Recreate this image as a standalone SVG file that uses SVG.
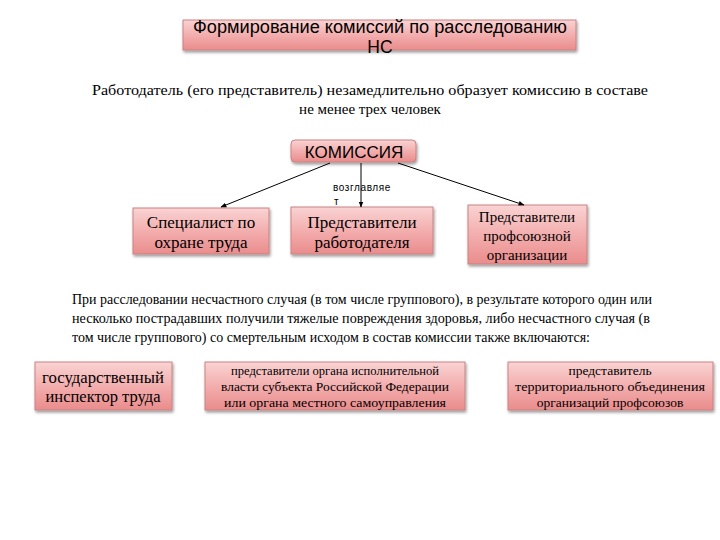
<svg xmlns="http://www.w3.org/2000/svg" width="720" height="540" viewBox="0 0 720 540">
<defs>
<linearGradient id="pink" x1="0" y1="0" x2="0" y2="1">
<stop offset="0" stop-color="#f9d3d3"/>
<stop offset="0.5" stop-color="#f3aeae"/>
<stop offset="1" stop-color="#ea8c8c"/>
</linearGradient>
<filter id="sh" x="-10%" y="-10%" width="120%" height="140%">
<feGaussianBlur in="SourceAlpha" stdDeviation="1.5"/>
<feOffset dx="1" dy="2" result="b"/>
<feComponentTransfer><feFuncA type="linear" slope="0.4"/></feComponentTransfer>
<feMerge><feMergeNode/><feMergeNode in="SourceGraphic"/></feMerge>
</filter>
<marker id="arr" viewBox="0 0 10 10" refX="9" refY="5" markerWidth="6" markerHeight="6" orient="auto">
<path d="M0,1 L10,5 L0,9 z" fill="#000"/>
</marker>
</defs>
<style>
.box{fill:url(#pink);stroke:#c98383;stroke-width:1;filter:url(#sh)}
.sans{font-family:"Liberation Sans",Arial,sans-serif;fill:#000}
.serif{font-family:"Liberation Serif","Times New Roman",serif;fill:#000}
.c{text-anchor:middle}
.conn{stroke:#000;stroke-width:1;fill:none;marker-end:url(#arr)}
</style>
<rect width="720" height="540" fill="#fff"/>

<g id="title">
<rect class="box" x="183" y="20" width="393" height="30"/>
<text class="sans c" x="380" y="33" font-size="17.5" textLength="374" lengthAdjust="spacingAndGlyphs">Формирование комиссий по расследованию</text>
<text class="sans c" x="380" y="53" font-size="17.5">НС</text>
</g>

<g id="intro">
<text class="serif c" x="370" y="95" font-size="15" textLength="556" lengthAdjust="spacingAndGlyphs">Работодатель (его представитель) незамедлительно образует комиссию в составе</text>
<text class="serif c" x="370" y="114" font-size="15">не менее трех человек</text>
</g>

<g id="komissiya">
<rect class="box" x="291" y="140" width="125" height="22" rx="4"/>
<text class="sans c" x="354" y="158" font-size="17">КОМИССИЯ</text>
</g>

<g id="specialist">
<rect class="box" x="133" y="208" width="136" height="46"/>
<text class="serif c" x="201" y="228" font-size="17">Специалист по</text>
<text class="serif c" x="201" y="248" font-size="17">охране труда</text>
</g>

<g id="rep-employer">
<rect class="box" x="291" y="207" width="142" height="47"/>
<text class="serif c" x="362" y="228" font-size="17">Представители</text>
<text class="serif c" x="362" y="248" font-size="17">работодателя</text>
</g>

<g id="rep-union">
<rect class="box" x="468" y="205" width="119" height="59"/>
<text class="serif c" x="527" y="222" font-size="15">Представители</text>
<text class="serif c" x="527" y="241" font-size="15">профсоюзной</text>
<text class="serif c" x="527" y="260" font-size="15">организации</text>
</g>

<g id="connectors">
<line class="conn" x1="330" y1="163" x2="221" y2="207"/>
<line class="conn" x1="361" y1="163" x2="361" y2="207"/>
<line class="conn" x1="398" y1="163" x2="524" y2="205"/>
<text class="sans" x="333" y="191" font-size="10" letter-spacing="0.6">возглавляе</text>
<text class="sans" x="334" y="205" font-size="10">т</text>
</g>

<g id="note">
<text class="serif" x="72" y="304" font-size="14" textLength="580" lengthAdjust="spacingAndGlyphs">При расследовании несчастного случая (в том числе группового), в результате которого один или</text>
<text class="serif" x="72" y="323" font-size="14" textLength="578" lengthAdjust="spacingAndGlyphs">несколько пострадавших получили тяжелые повреждения здоровья, либо несчастного случая (в</text>
<text class="serif" x="72" y="342" font-size="14" textLength="518" lengthAdjust="spacingAndGlyphs">том числе группового) со смертельным исходом в состав комиссии также включаются:</text>
</g>

<g id="inspector">
<rect class="box" x="35" y="362" width="137" height="48"/>
<text class="serif c" x="103" y="383" font-size="16.5" textLength="122" lengthAdjust="spacingAndGlyphs">государственный</text>
<text class="serif c" x="103" y="402" font-size="16.5">инспектор труда</text>
</g>

<g id="exec-power">
<rect class="box" x="205" y="362" width="260" height="48"/>
<text class="serif c" x="335" y="375" font-size="13.5" textLength="208" lengthAdjust="spacingAndGlyphs">представители органа исполнительной</text>
<text class="serif c" x="335" y="391" font-size="13.5" textLength="228" lengthAdjust="spacingAndGlyphs">власти субъекта Российской Федерации</text>
<text class="serif c" x="335" y="407" font-size="13.5" textLength="222" lengthAdjust="spacingAndGlyphs">или органа местного самоуправления</text>
</g>

<g id="union-assoc">
<rect class="box" x="508" y="362" width="205" height="48"/>
<text class="serif c" x="610" y="375" font-size="13.5">представитель</text>
<text class="serif c" x="610" y="391" font-size="13.5" textLength="190" lengthAdjust="spacingAndGlyphs">территориального объединения</text>
<text class="serif c" x="610" y="407" font-size="13.5">организаций профсоюзов</text>
</g>
</svg>
